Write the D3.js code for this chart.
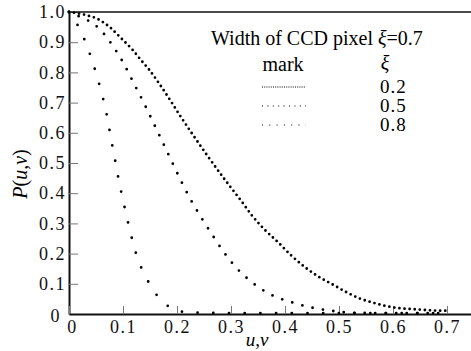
<!DOCTYPE html>
<html lang="en">
<head>
    <meta charset="UTF-8">
    <title></title>
    <style type="text/css">
        html, body { padding:0; margin:0; background:#fff; }
    </style>
</head>
<body>
<script src="https://d3js.org/d3.v7.min.js"></script>
<script>
    // values, u on x, P on y
    var xiValues = [0.2, 0.5, 0.8];

    var uXi02 = [0, 0.031, 0.053, 0.076, 0.096, 0.117, 0.136, 0.148, 0.167, 0.187, 0.207, 0.225,
                 0.289, 0.301, 0.32, 0.338, 0.363, 0.388, 0.412, 0.437, 0.46, 0.493, 0.514, 0.539,
                 0.564, 0.588, 0.613, 0.638, 0.662, 0.687, 0.702];
    var pXi02 = [1, 0.990, 0.977, 0.949, 0.914, 0.876, 0.835, 0.81, 0.763, 0.709, 0.653, 0.605,
                 0.444, 0.416, 0.372, 0.328, 0.278, 0.236, 0.193, 0.155, 0.126, 0.093, 0.072, 0.051,
                 0.037, 0.026, 0.019, 0.016, 0.013, 0.011, 0.011];

    var uXi05 = [0, 0.024, 0.042, 0.057, 0.070, 0.081, 0.092, 0.102, 0.120, 0.138, 0.155, 0.172,
                 0.189, 0.206, 0.224, 0.244, 0.265, 0.287, 0.312, 0.341, 0.374, 0.412, 0.45, 0.489,
                 0.524, 0.6, 0.7];
    var pXi05 = [1, 0.981, 0.965, 0.943, 0.916, 0.888, 0.858, 0.827, 0.764, 0.701, 0.638, 0.574,
                 0.510, 0.446, 0.383, 0.322, 0.263, 0.204, 0.149, 0.102, 0.064, 0.039, 0.021, 0.010,
                 0.004, 0.003, 0.003];

    var uXi08 = [0, 0.0185, 0.031, 0.041, 0.050, 0.058, 0.0655, 0.0717, 0.0765, 0.082, 0.0876, 0.093,
                 0.0994, 0.1056, 0.1124, 0.1198, 0.128, 0.1407, 0.154, 0.1735, 0.1976, 0.227, 0.3,
                 0.5, 0.7];
    var pXi08 = [1, 0.948, 0.898, 0.849, 0.798, 0.748, 0.695, 0.643, 0.593, 0.541, 0.488, 0.435,
                 0.383, 0.332, 0.280, 0.228, 0.179, 0.129, 0.084, 0.042, 0.012, 0.005, 0.003,
                 0.003, 0.003];

    var xTicks = [0, 0.1, 0.2, 0.3, 0.4, 0.5, 0.6, 0.7];
    var yTicks = [0, 0.1, 0.2, 0.3, 0.4, 0.5, 0.6, 0.7, 0.8, 0.9, 1.0];

    var chart = {};

    chart.options = {
        width: 471,
        height: 351,
        left: 69,
        right: 471,
        top: 12,
        bottom: 314,
        font: '"Liberation Serif", "Times New Roman", Times, "DejaVu Serif", serif',
        dots: ['0,5.1', '0,10.5', '0,15.7'],
        legendDots: ['1,1.2', '1,4.4', '1,6.3']
    };

    chart.init = function() {
        var o = this.options;
        this.svg = d3.select('body').append('svg')
          .attr('width', o.width)
          .attr('height', o.height)
          .style('font-family', o.font);

        // 0.1 of u is about 54px, so the right end is a little past 0.74
        this.x = d3.scaleLinear().domain([0, (o.right - o.left) / 540]).range([o.left, o.right]);
        this.y = d3.scaleLinear().domain([0, 1]).range([o.bottom, o.top]);

        this.renderAxes();
        this.renderCurves();
        this.renderLegend();
    };

    chart.renderAxes = function() {
        var o = this.options, svg = this.svg, x = this.x, y = this.y;

        var yAxis = d3.axisLeft(y).tickValues(yTicks).tickSize(-9).tickSizeOuter(0).tickPadding(3)
            .tickFormat(function(d) { return d === 0 ? '0' : d3.format('.1f')(d); });
        var gy = svg.append('g')
          .attr('transform', 'translate(' + o.left + ',0)')
          .call(yAxis);

        var xAxis = d3.axisBottom(x).tickValues(xTicks).tickSize(-8).tickSizeOuter(0).tickPadding(6)
            .tickFormat(function(d) { return d === 0 ? '0' : d3.format('.1f')(d); });
        var gx = svg.append('g')
          .attr('transform', 'translate(0,' + o.bottom + ')')
          .call(xAxis);

        [gx, gy].forEach(function(g) {
            g.attr('font-family', null).attr('font-size', null);
            g.selectAll('.tick line').attr('stroke', '#777').attr('stroke-width', 1);
            g.selectAll('.domain').attr('stroke', '#111').attr('stroke-width', 2);
            g.selectAll('.tick text')
              .attr('fill', '#111')
              .style('font-family', o.font)
              .style('font-size', '18px')
              .style('letter-spacing', '1.5px');
        });

        gy.selectAll('.tick text').filter(function(d) { return d === 0; })
          .attr('x', -8).attr('dy', '0.42em');
        gx.selectAll('.tick text').filter(function(d) { return d === 0; })
          .attr('x', 3);

        // frame line across the top
        svg.append('line')
          .attr('x1', o.left).attr('x2', o.right)
          .attr('y1', y(1)).attr('y2', y(1))
          .attr('stroke', '#111').attr('stroke-width', 1.6);

        // nudged left of the 0.4 label so the two don't collide
        var xl = svg.append('text')
          .attr('x', 257).attr('y', 346)
          .attr('text-anchor', 'middle')
          .style('font-size', '19px');
        xl.append('tspan').attr('font-style', 'italic').text('u');
        xl.append('tspan').text(',');
        xl.append('tspan').attr('font-style', 'italic').text('v');

        var yl = svg.append('text')
          .attr('transform', 'translate(27,174) rotate(-90)')
          .attr('text-anchor', 'middle')
          .style('font-size', '20px');
        yl.append('tspan').attr('font-style', 'italic').text('P');
        yl.append('tspan').text('(');
        yl.append('tspan').attr('font-style', 'italic').text('u');
        yl.append('tspan').text(',');
        yl.append('tspan').attr('font-style', 'italic').text('v');
        yl.append('tspan').text(')');
    };

    chart.renderCurves = function() {
        var o = this.options, x = this.x, y = this.y;
        var series = [[uXi02, pXi02], [uXi05, pXi05], [uXi08, pXi08]];

        var line = d3.line()
          .x(function(d) { return x(d[0]); })
          .y(function(d) { return y(d[1]); })
          .curve(d3.curveMonotoneX);

        this.svg.append('g').selectAll('path')
          .data(series)
          .enter().append('path')
          .attr('d', function(s) { return line(d3.zip(s[0], s[1])); })
          .attr('fill', 'none')
          .attr('stroke', '#000')
          .attr('stroke-width', 2.8)
          .attr('stroke-linecap', 'round')
          .attr('stroke-dasharray', function(s, i) { return o.dots[i]; });
    };

    chart.renderLegend = function() {
        var o = this.options, svg = this.svg;

        var title = svg.append('text')
          .attr('x', 211).attr('y', 45)
          .style('font-size', '20px');
        title.append('tspan').text('Width of CCD pixel ');
        title.append('tspan').attr('font-style', 'italic').text('\u03BE');
        title.append('tspan').text('=0.7');

        svg.append('text')
          .attr('x', 283).attr('y', 71)
          .attr('text-anchor', 'middle')
          .style('font-size', '20px')
          .text('mark');

        svg.append('text')
          .attr('x', 385).attr('y', 70)
          .attr('text-anchor', 'middle')
          .style('font-size', '20px')
          .attr('font-style', 'italic')
          .text('\u03BE');

        var rows = svg.append('g').selectAll('g')
          .data(xiValues)
          .enter().append('g')
          .attr('transform', function(d, i) { return 'translate(0,' + [87, 106, 125][i] + ')'; });

        rows.append('line')
          .attr('x1', 262).attr('x2', 306)
          .attr('stroke', '#000')
          .attr('stroke-width', 1.2)
          .attr('stroke-dasharray', function(d, i) { return o.legendDots[i]; });

        rows.append('text')
          .attr('x', 380).attr('y', 6)
          .style('font-size', '19px')
          .style('letter-spacing', '1px')
          .text(function(d) { return d3.format('.1f')(d); });
    };

    chart.init();
</script>
</body>
</html>
